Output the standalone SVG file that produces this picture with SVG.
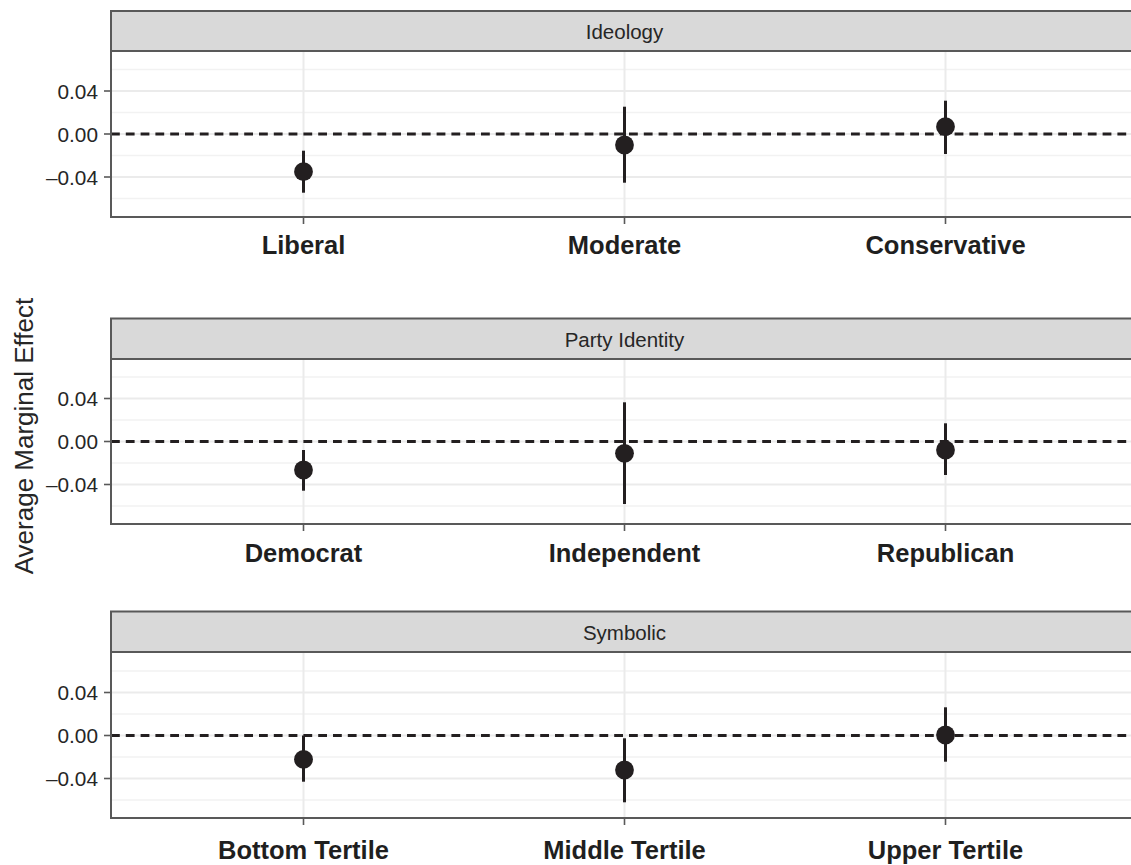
<svg xmlns="http://www.w3.org/2000/svg" width="1131" height="865" viewBox="0 0 1131 865">
<style>
text{font-family:"Liberation Sans",Arial,sans-serif;fill:#262626}
.strip{fill:#d9d9d9;stroke:#595959;stroke-width:2}
.frame{fill:none;stroke:#595959;stroke-width:2}
.gmaj{stroke:#ebebeb;stroke-width:2}
.gmin{stroke:#f2f2f2;stroke-width:1.3}
.zero{stroke:#231f20;stroke-width:2.8;stroke-dasharray:8.8 6}
.tick{stroke:#595959;stroke-width:1.6}
.ytl{font-size:20.8px;text-anchor:end}
.stl{font-size:20.5px;text-anchor:middle}
.xtl{font-size:25.5px;font-weight:bold;text-anchor:middle;fill:#1f1f1f}
.bar{stroke:#231f20;stroke-width:3}
.pt{fill:#231f20}
</style>
<rect width="1131" height="865" fill="#fff"/>
<text transform="translate(33,436) rotate(-90)" style="font-size:26px;text-anchor:middle">Average Marginal Effect</text>

<g id="panel-ideology">
<line class="gmin" x1="111" x2="1131" y1="69.5" y2="69.5"/>
<line class="gmin" x1="111" x2="1131" y1="112.5" y2="112.5"/>
<line class="gmin" x1="111" x2="1131" y1="155.5" y2="155.5"/>
<line class="gmin" x1="111" x2="1131" y1="198.5" y2="198.5"/>
<line class="gmaj" x1="111" x2="1131" y1="91" y2="91"/>
<line class="gmaj" x1="111" x2="1131" y1="134" y2="134"/>
<line class="gmaj" x1="111" x2="1131" y1="177" y2="177"/>
<line class="gmaj" x1="303.5" x2="303.5" y1="51" y2="217"/>
<line class="gmaj" x1="624.5" x2="624.5" y1="51" y2="217"/>
<line class="gmaj" x1="945.5" x2="945.5" y1="51" y2="217"/>
<line class="zero" x1="111" x2="1131" y1="134" y2="134"/>
<line class="bar" x1="303.5" x2="303.5" y1="150.7" y2="192.7"/><circle class="pt" cx="303.5" cy="171.7" r="9.4"/>
<line class="bar" x1="624.5" x2="624.5" y1="106.7" y2="182.7"/><circle class="pt" cx="624.5" cy="145" r="9.4"/>
<line class="bar" x1="945.5" x2="945.5" y1="100.7" y2="154"/><circle class="pt" cx="945.5" cy="126.7" r="9.4"/>
<rect class="strip" x="111" y="11" width="1030" height="40"/>
<text class="stl" x="624.5" y="38.5">Ideology</text>
<rect class="frame" x="111" y="51" width="1030" height="166"/>
<line class="tick" x1="104" x2="111" y1="91" y2="91"/>
<line class="tick" x1="104" x2="111" y1="134" y2="134"/>
<line class="tick" x1="104" x2="111" y1="177" y2="177"/>
<text class="ytl" x="98" y="98.5">0.04</text>
<text class="ytl" x="98" y="141.5">0.00</text>
<text class="ytl" x="98" y="184.5">–0.04</text>
<line class="tick" x1="303.5" x2="303.5" y1="217" y2="224"/>
<line class="tick" x1="624.5" x2="624.5" y1="217" y2="224"/>
<line class="tick" x1="945.5" x2="945.5" y1="217" y2="224"/>
<text class="xtl" x="303.5" y="254">Liberal</text>
<text class="xtl" x="624.5" y="254">Moderate</text>
<text class="xtl" x="945.5" y="254">Conservative</text>
</g>

<g id="panel-party">
<line class="gmin" x1="111" x2="1131" y1="377" y2="377"/>
<line class="gmin" x1="111" x2="1131" y1="420" y2="420"/>
<line class="gmin" x1="111" x2="1131" y1="463" y2="463"/>
<line class="gmin" x1="111" x2="1131" y1="506" y2="506"/>
<line class="gmaj" x1="111" x2="1131" y1="398.5" y2="398.5"/>
<line class="gmaj" x1="111" x2="1131" y1="441.5" y2="441.5"/>
<line class="gmaj" x1="111" x2="1131" y1="484.5" y2="484.5"/>
<line class="gmaj" x1="303.5" x2="303.5" y1="359" y2="524"/>
<line class="gmaj" x1="624.5" x2="624.5" y1="359" y2="524"/>
<line class="gmaj" x1="945.5" x2="945.5" y1="359" y2="524"/>
<line class="zero" x1="111" x2="1131" y1="441.5" y2="441.5"/>
<line class="bar" x1="303.5" x2="303.5" y1="450" y2="490.7"/><circle class="pt" cx="303.5" cy="470" r="9.4"/>
<line class="bar" x1="624.5" x2="624.5" y1="402.3" y2="504"/><circle class="pt" cx="624.5" cy="453.3" r="9.4"/>
<line class="bar" x1="945.5" x2="945.5" y1="423.3" y2="475"/><circle class="pt" cx="945.5" cy="450" r="9.4"/>
<rect class="strip" x="111" y="318.5" width="1030" height="40.5"/>
<text class="stl" x="624.5" y="346.5">Party Identity</text>
<rect class="frame" x="111" y="359" width="1030" height="165"/>
<line class="tick" x1="104" x2="111" y1="398.5" y2="398.5"/>
<line class="tick" x1="104" x2="111" y1="441.5" y2="441.5"/>
<line class="tick" x1="104" x2="111" y1="484.5" y2="484.5"/>
<text class="ytl" x="98" y="406">0.04</text>
<text class="ytl" x="98" y="449">0.00</text>
<text class="ytl" x="98" y="492">–0.04</text>
<line class="tick" x1="303.5" x2="303.5" y1="524" y2="531"/>
<line class="tick" x1="624.5" x2="624.5" y1="524" y2="531"/>
<line class="tick" x1="945.5" x2="945.5" y1="524" y2="531"/>
<text class="xtl" x="303.5" y="562">Democrat</text>
<text class="xtl" x="624.5" y="562">Independent</text>
<text class="xtl" x="945.5" y="562">Republican</text>
</g>

<g id="panel-symbolic">
<line class="gmin" x1="111" x2="1131" y1="671" y2="671"/>
<line class="gmin" x1="111" x2="1131" y1="714" y2="714"/>
<line class="gmin" x1="111" x2="1131" y1="757" y2="757"/>
<line class="gmin" x1="111" x2="1131" y1="800" y2="800"/>
<line class="gmaj" x1="111" x2="1131" y1="692.5" y2="692.5"/>
<line class="gmaj" x1="111" x2="1131" y1="735.5" y2="735.5"/>
<line class="gmaj" x1="111" x2="1131" y1="778.5" y2="778.5"/>
<line class="gmaj" x1="303.5" x2="303.5" y1="652" y2="818"/>
<line class="gmaj" x1="624.5" x2="624.5" y1="652" y2="818"/>
<line class="gmaj" x1="945.5" x2="945.5" y1="652" y2="818"/>
<line class="zero" x1="111" x2="1131" y1="735.5" y2="735.5"/>
<line class="bar" x1="303.5" x2="303.5" y1="735.5" y2="781.7"/><circle class="pt" cx="303.5" cy="759.3" r="9.4"/>
<line class="bar" x1="624.5" x2="624.5" y1="738.3" y2="802.3"/><circle class="pt" cx="624.5" cy="770" r="9.4"/>
<line class="bar" x1="945.5" x2="945.5" y1="707.3" y2="761.7"/><circle class="pt" cx="945.5" cy="735" r="9.4"/>
<rect class="strip" x="111" y="611.5" width="1030" height="40.5"/>
<text class="stl" x="624.5" y="639.5">Symbolic</text>
<rect class="frame" x="111" y="652" width="1030" height="166"/>
<line class="tick" x1="104" x2="111" y1="692.5" y2="692.5"/>
<line class="tick" x1="104" x2="111" y1="735.5" y2="735.5"/>
<line class="tick" x1="104" x2="111" y1="778.5" y2="778.5"/>
<text class="ytl" x="98" y="700">0.04</text>
<text class="ytl" x="98" y="743">0.00</text>
<text class="ytl" x="98" y="786">–0.04</text>
<line class="tick" x1="303.5" x2="303.5" y1="818" y2="825"/>
<line class="tick" x1="624.5" x2="624.5" y1="818" y2="825"/>
<line class="tick" x1="945.5" x2="945.5" y1="818" y2="825"/>
<text class="xtl" x="303.5" y="859">Bottom Tertile</text>
<text class="xtl" x="624.5" y="859">Middle Tertile</text>
<text class="xtl" x="945.5" y="859">Upper Tertile</text>
</g>
</svg>
